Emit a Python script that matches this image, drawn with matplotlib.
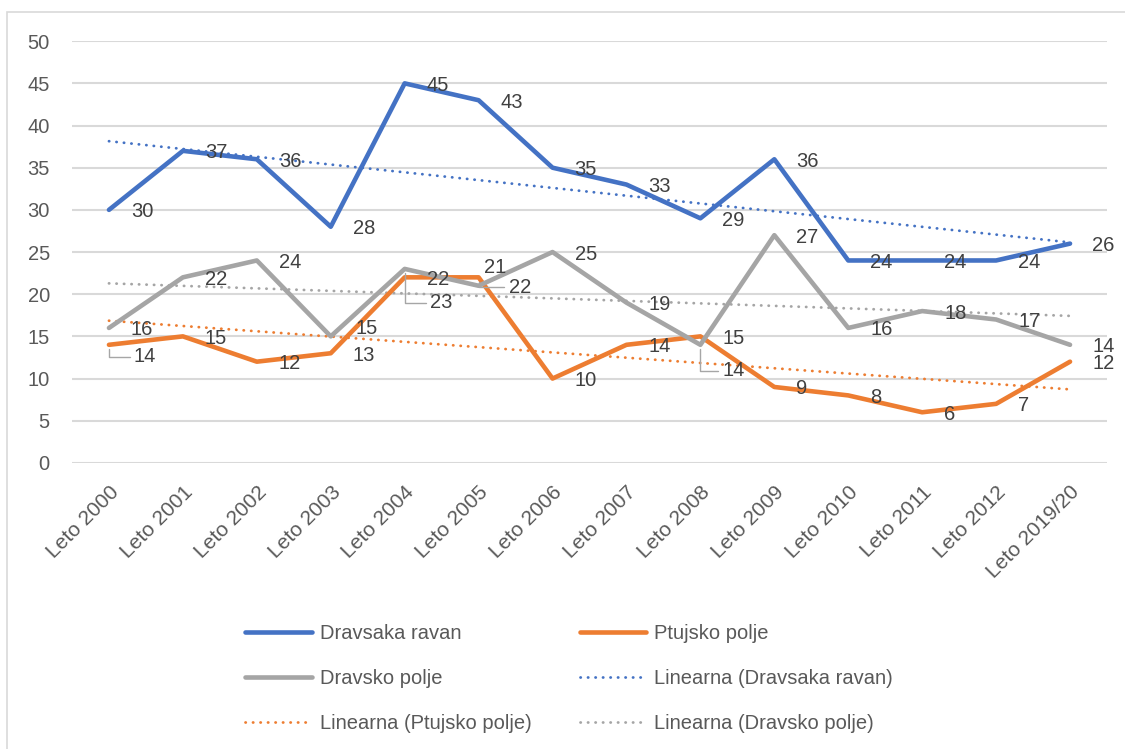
import numpy as np
import matplotlib
matplotlib.use("Agg")
import matplotlib.pyplot as plt
from matplotlib.patches import Rectangle

plt.rcParams['font.family'] = ['Liberation Sans', 'DejaVu Sans']

# data
categories = ['Leto 2000', 'Leto 2001', 'Leto 2002', 'Leto 2003', 'Leto 2004',
              'Leto 2005', 'Leto 2006', 'Leto 2007', 'Leto 2008', 'Leto 2009',
              'Leto 2010', 'Leto 2011', 'Leto 2012', 'Leto 2019/20']
dravsaka_ravan = [30, 37, 36, 28, 45, 43, 35, 33, 29, 36, 24, 24, 24, 26]
ptujsko_polje = [14, 15, 12, 13, 22, 22, 10, 14, 15, 9, 8, 6, 7, 12]
dravsko_polje = [16, 22, 24, 15, 23, 21, 25, 19, 14, 27, 16, 18, 17, 14]
series_names = ['Dravsaka ravan', 'Ptujsko polje', 'Dravsko polje']
yticks = [0, 5, 10, 15, 20, 25, 30, 35, 40, 45, 50]

colors = ['#4472C4', '#ED7D31', '#A5A5A5']
label_color = '#404040'
axis_color = '#595959'

# label offsets in pixels (left edge of text relative to the point), with leader flag
default_off = (22, -2, False)
label_off = {
    (1, 0): (25, -12, True),
    (1, 5): (30, -10, True),
    (2, 3): (25, 8, False),
    (2, 4): (25, -34, True),
    (2, 5): (5, 18, False),
    (2, 8): (22, -26, True),
}

fig = plt.figure(figsize=(11.25, 7.49), dpi=100)
ax = fig.add_axes([0.064, 0.382, 0.92, 0.563])

# chart border
fig.patches.append(Rectangle((7 / 1125, -0.05), 1.2, 1 - 12 / 749 + 0.05,
                             transform=fig.transFigure, fill=False,
                             edgecolor='#d9d9d9', lw=1.2))

x = np.arange(len(categories))
all_series = [dravsaka_ravan, ptujsko_polje, dravsko_polje]

handles = []
for vals, c in zip(all_series, colors):
    h, = ax.plot(x, vals, color=c, lw=3.3, solid_joinstyle='round',
                 solid_capstyle='round', zorder=3)
    handles.append(h)

trend_handles = []
for vals, c in zip(all_series, colors):
    k, b = np.polyfit(x, vals, 1)
    h, = ax.plot(x, k * x + b, color=c, lw=2.0, linestyle=(0, (0.1, 2.6)),
                 dash_capstyle='round', zorder=2)
    trend_handles.append(h)

for si, vals in enumerate(all_series):
    for i, v in enumerate(vals):
        dx, dy, leader = label_off.get((si, i), default_off)
        kw = {}
        if leader:
            kw['arrowprops'] = dict(arrowstyle='-', color='#a6a6a6', lw=1,
                                    shrinkA=1, shrinkB=3,
                                    connectionstyle='angle,angleA=0,angleB=90,rad=0')
        ax.annotate(str(v), (x[i], v), xytext=(dx, dy), textcoords='offset pixels',
                    ha='left', va='center', fontsize=14.5, color=label_color,
                    zorder=5, **kw)

ax.set_xlim(-0.5, len(categories) - 0.5)
ax.set_ylim(0, 50)
ax.set_yticks(yticks)
ax.yaxis.grid(True, color='#d9d9d9', lw=1.5)
ax.set_axisbelow(True)
for s in ax.spines.values():
    s.set_visible(False)
ax.tick_params(axis='both', length=0, colors=axis_color, labelsize=14.5)
ax.tick_params(axis='y', pad=16)
ax.set_xticks(x)
ax.set_xticklabels(categories, rotation=45, ha='right', rotation_mode='anchor',
                   fontsize=15)
ax.tick_params(axis='x', pad=14)

leg_handles = [handles[0], handles[2], trend_handles[1],
               handles[1], trend_handles[0], trend_handles[2]]
leg_labels = ['Dravsaka ravan', 'Dravsko polje', 'Linearna (Ptujsko polje)',
              'Ptujsko polje', 'Linearna (Dravsaka ravan)', 'Linearna (Dravsko polje)']
fig.legend(leg_handles, leg_labels, ncol=2, loc='center',
           bbox_to_anchor=(0.506, 0.094), frameon=False, fontsize=14.5,
           labelcolor=axis_color, handlelength=3.3, handletextpad=0.4,
           columnspacing=2.4, labelspacing=1.3)

fig.savefig('out.png', dpi=100)
